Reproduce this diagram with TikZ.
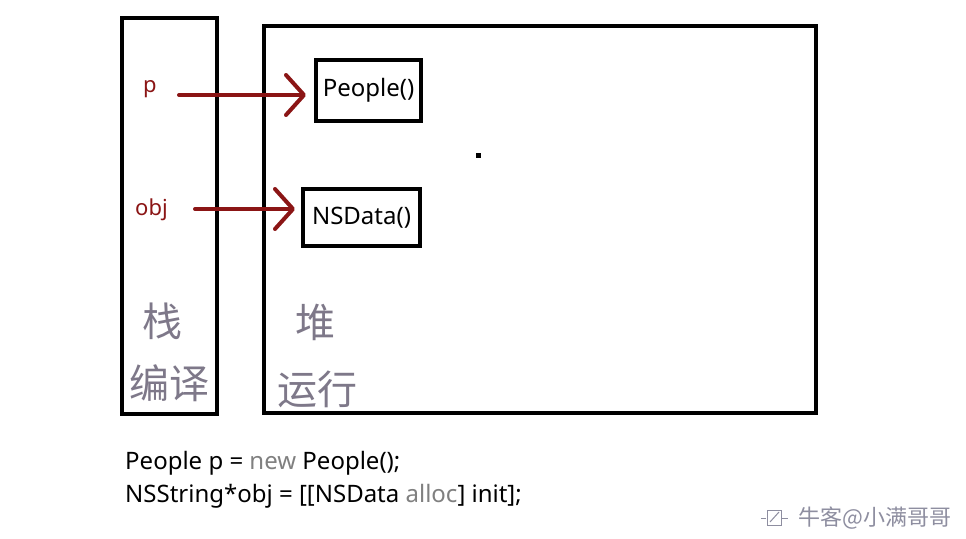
\documentclass[tikz,border=0pt]{standalone}
\usepackage{fontspec}
\setmainfont{Noto Sans}
\newfontfamily\cjk{Noto Sans CJK SC}
\usetikzlibrary{arrows.meta}
\definecolor{arrred}{HTML}{8B1515}
\definecolor{cjkgray}{HTML}{7E7889}
\definecolor{kwgray}{HTML}{808080}
\definecolor{wmgray}{HTML}{8E8EA0}
\tikzset{
  frame/.style={draw=black, line width=4pt},
  objbox/.style={draw=black, line width=4pt, inner sep=0pt, font=\fontsize{24}{28}\selectfont},
  ptr/.style={draw=arrred, line width=4pt, line cap=round,
    -{Straight Barb[length=18pt, width=40pt, line width=4pt, round]}},
  varlbl/.style={anchor=base west, inner sep=0pt, text=arrred, font=\fontsize{22}{26}\selectfont},
  cjklbl/.style={inner sep=0pt, text=cjkgray, font=\cjk\fontsize{40}{44}\selectfont},
  codeline/.style={anchor=base west, inner sep=0pt, font=\fontsize{24}{28}\selectfont},
}
\begin{document}
\begin{tikzpicture}[x=1pt, y=-1pt]
\useasboundingbox (0,0) rectangle (966,538);
\fill[white] (0,0) rectangle (966,538);
% stack and heap frames
\draw[frame] (122,18) rectangle (217,414) coordinate (stackframe);
\draw[frame] (264,26) rectangle (816,413) coordinate (heapframe);
% objects
\node[objbox, minimum width=105pt, minimum height=61pt] (people) at (368.5,90.5) {People()};
\node[objbox, minimum width=117pt, minimum height=57pt] (nsdata) at (361.5,217.5) {NSData()};
% variables
\node[varlbl] (p) at (143,92) {p};
\node[varlbl] (obj) at (135,215) {obj};
\coordinate (pstart) at (179,95);
\coordinate (objstart) at (195,209);
\draw[ptr] (pstart) -- ([xshift=-8pt]people.west |- pstart);
\draw[ptr] (objstart) -- ([xshift=-6pt]nsdata.west |- objstart);
% dot
\fill[black] (475.5,152.5) rectangle (480.5,157.5);
% chinese labels
\node[cjklbl] (zhan) at (162,321) {栈};
\node[cjklbl] (bianyi) at (169,383) {编译};
\node[cjklbl] (dui) at (315,322) {堆};
\node[cjklbl] (yunxing) at (317,389) {运行};
% code
\node[codeline] (code1) at (125,469) {People p = \textcolor{kwgray}{new} People();};
\node[codeline] (code2) at (125,502) {NSString*obj = [[NSData \textcolor{kwgray}{alloc}] init];};
% watermark
\begin{scope}[wmgray, line width=1pt]
\draw (767,510) rectangle (781,525);
\draw (770,522) -- (779,512);
\draw (761,518) -- (766,518);
\draw (782,518) -- (788,518);
\end{scope}
\node[anchor=base west, inner sep=0pt, text=wmgray, font=\cjk\fontsize{22}{26}\selectfont] (wm) at (798,525) {牛客@小满哥哥};
\end{tikzpicture}
\end{document}
